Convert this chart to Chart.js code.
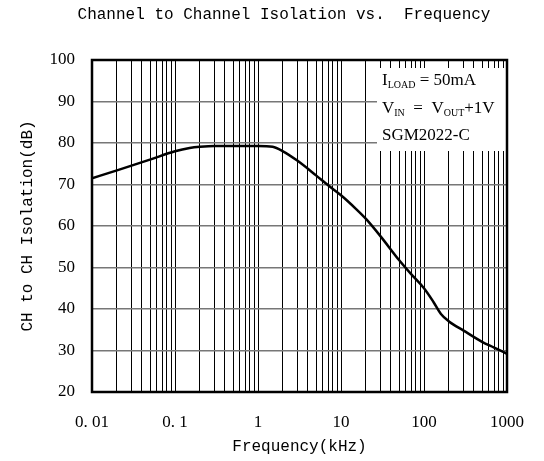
<!DOCTYPE html>
<html>
<head>
<meta charset="utf-8">
<script src="https://cdn.jsdelivr.net/npm/chart.js@4/dist/chart.umd.min.js"></script>
<style>
    html, body { margin: 0; padding: 0; background: #fff; }
</style>
</head>
<body>
<canvas id="grafico" width="544" height="461"></canvas>
<script>
// Dados (frequência em kHz, isolação em dB)
const freq = [0.01, 0.02, 0.05, 0.1, 0.15, 0.2, 0.3, 0.5, 1, 1.5, 2, 3, 5, 7, 10, 15, 20, 30, 50, 70, 100, 130, 160, 200, 300, 500, 700, 1000];
const isolation = [71.5, 73.4, 76.0, 78.0, 78.8, 79.1, 79.3, 79.3, 79.3, 79.1, 78.0, 75.7, 72.2, 69.8, 67.4, 64.2, 61.7, 57.5, 51.8, 48.4, 45.0, 41.7, 38.8, 37.0, 34.8, 32.1, 30.7, 29.2];

const xDecades = [0.01, 0.1, 1, 10, 100, 1000];
const xTickLabels = ['0. 01', '0. 1', '1', '10', '100', '1000'];
const yTicks = [20, 30, 40, 50, 60, 70, 80, 90, 100];

const chartTitle = 'Channel to Channel Isolation vs.  Frequency';
const xTitle = 'Frequency(kHz)';
const yTitle = 'CH to CH Isolation(dB)';

// linhas da caixa de condições: [texto, subscrito?]
const noteLines = [
    [['I', false], ['LOAD', true], [' = 50mA', false]],
    [['V', false], ['IN', true], ['  =  V', false], ['OUT', true], ['+1V', false]],
    [['SGM2022-C', false]]
];

const monoFont = "'Liberation Mono', monospace";
const serifFont = "'Liberation Serif', serif";

// Título e caixa de notas desenhados à mão
const extras = {
    id: 'extras',
    beforeDatasetsDraw(chart) {
        const ctx = chart.ctx;
        const a = chart.chartArea;
        ctx.save();
        ctx.fillStyle = '#fff';
        ctx.fillRect(a.left + 285, a.top + 8, 131, 83);
        ctx.restore();
    },
    afterDatasetsDraw(chart) {
        const ctx = chart.ctx;
        const a = chart.chartArea;
        ctx.save();
        // moldura
        ctx.strokeStyle = '#000';
        ctx.lineWidth = 2.5;
        ctx.strokeRect(a.left, a.top, a.right - a.left, a.bottom - a.top);

        // título
        ctx.fillStyle = '#000';
        ctx.font = '16px ' + monoFont;
        ctx.textAlign = 'center';
        ctx.textBaseline = 'middle';
        ctx.fillText(chartTitle, 284, 15);

        // notas
        ctx.textAlign = 'left';
        ctx.textBaseline = 'alphabetic';
        var baseY = a.top + 25;
        for (var i = 0; i < noteLines.length; i++) {
            var x = a.left + 290;
            var y = baseY + i * 27.5;
            for (var j = 0; j < noteLines[i].length; j++) {
                var seg = noteLines[i][j];
                if (seg[1]) {
                    ctx.font = '10px ' + serifFont;
                    ctx.fillText(seg[0], x, y + 3);
                } else {
                    ctx.font = '17px ' + serifFont;
                    ctx.fillText(seg[0], x, y);
                }
                x += ctx.measureText(seg[0]).width;
            }
        }
        ctx.restore();
    }
};

const ctxGrafico = document.getElementById('grafico').getContext('2d');
const grafico = new Chart(ctxGrafico, {
    type: 'line',
    data: {
        datasets: [{
            data: freq.map((f, i) => ({ x: f, y: isolation[i] })),
            borderColor: '#000',
            borderWidth: 2.5,
            pointRadius: 0,
            cubicInterpolationMode: 'monotone',
            fill: false
        }]
    },
    options: {
        responsive: false,
        animation: false,
        devicePixelRatio: 1,
        layout: { padding: { left: 0, right: 26, top: 60, bottom: 0 } },
        plugins: {
            legend: { display: false },
            tooltip: { enabled: false }
        },
        scales: {
            x: {
                type: 'logarithmic',
                min: 0.01,
                max: 1000,
                afterBuildTicks(scale) {
                    var t = [];
                    for (var d = 0; d < xDecades.length; d++) {
                        var reps = d < xDecades.length - 1 ? 9 : 1;
                        for (var m = 1; m <= reps; m++) t.push({ value: m * xDecades[d] });
                    }
                    scale.ticks = t;
                },
                afterFit(scale) { scale.height = 69; },
                ticks: {
                    autoSkip: false,
                    maxRotation: 0,
                    padding: 20,
                    color: '#000',
                    font: { family: serifFont, size: 17 },
                    callback(v) {
                        var i = xDecades.findIndex(d => Math.abs(d - v) < d * 1e-6);
                        return i >= 0 ? xTickLabels[i] : '';
                    }
                },
                grid: { color: '#000', lineWidth: 1, drawTicks: false },
                border: { display: false },
                title: {
                    display: true,
                    text: xTitle,
                    color: '#000',
                    font: { family: monoFont, size: 16 },
                    padding: { top: 0, bottom: 5 }
                }
            },
            y: {
                min: 20,
                max: 100,
                afterBuildTicks(scale) { scale.ticks = yTicks.map(v => ({ value: v })); },
                afterFit(scale) { scale.width = 92; },
                ticks: {
                    padding: 17,
                    color: '#000',
                    font: { family: serifFont, size: 17 }
                },
                grid: { color: '#777', lineWidth: 1.5, drawTicks: false },
                border: { display: false },
                title: {
                    display: true,
                    text: yTitle,
                    color: '#000',
                    font: { family: monoFont, size: 16 },
                    padding: { top: 18, bottom: 0 }
                }
            }
        }
    },
    plugins: [extras]
});
</script>
</body>
</html>
